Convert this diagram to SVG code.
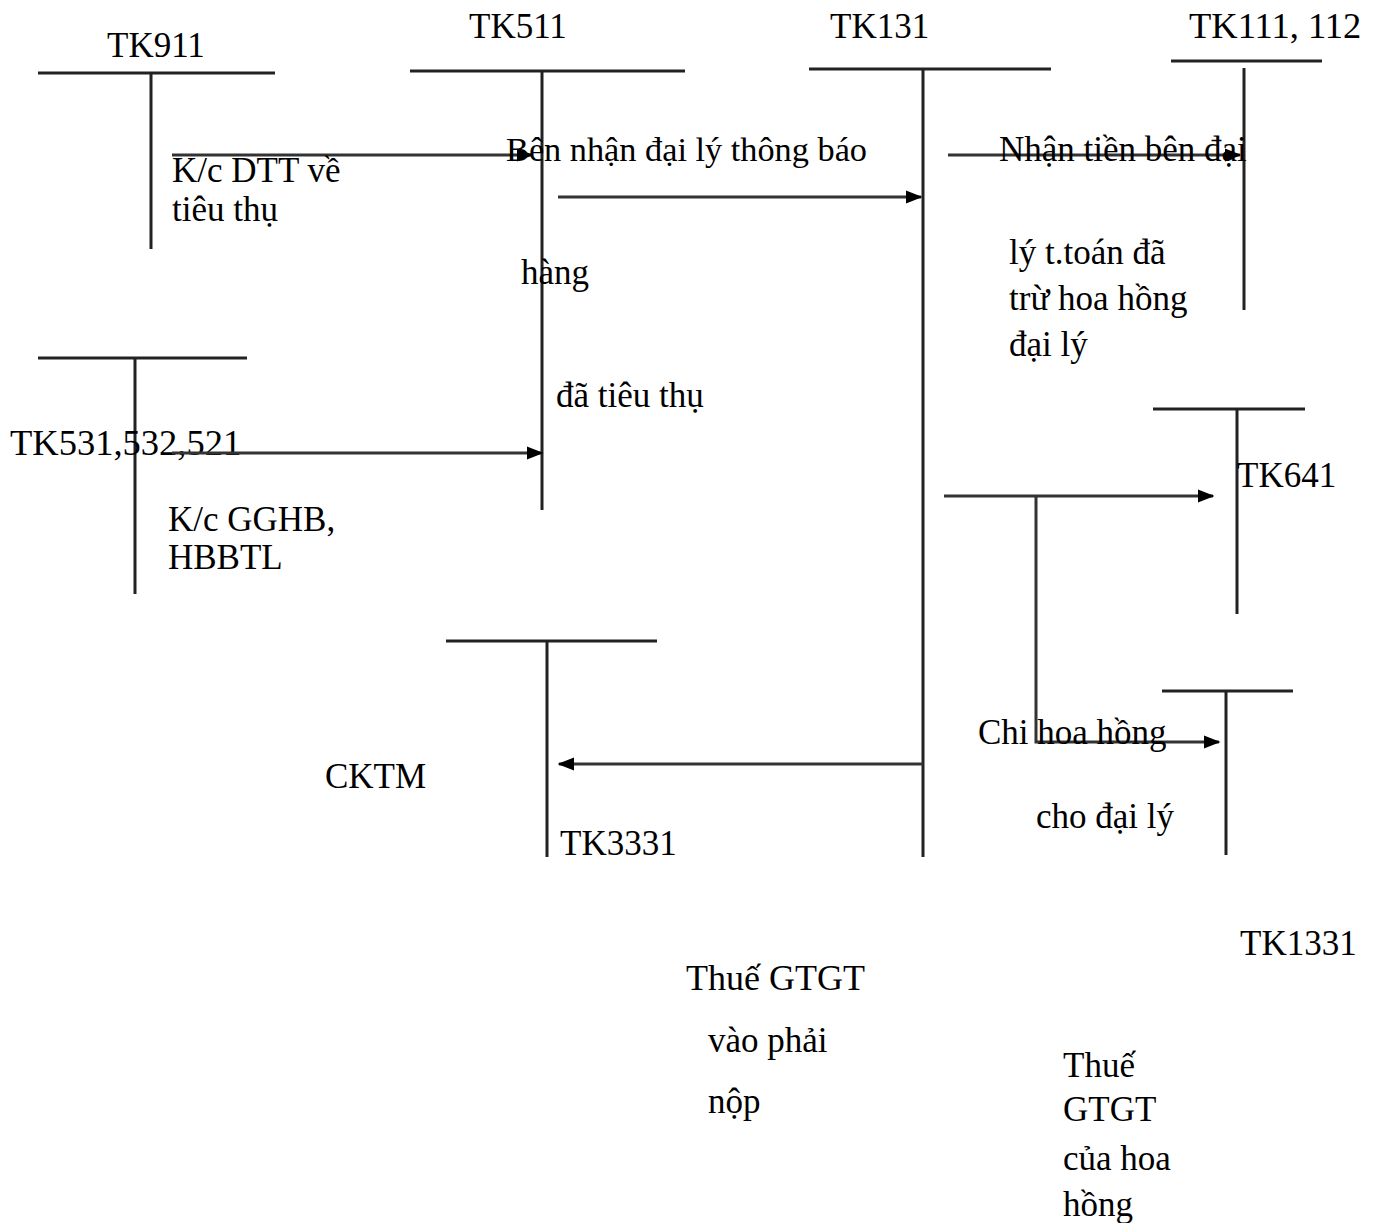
<svg xmlns="http://www.w3.org/2000/svg" width="1384" height="1223" viewBox="0 0 1384 1223">
<style>
text{font-family:"Liberation Serif","Times New Roman",serif;font-size:35px;fill:#000}
.t{stroke:#222;stroke-width:3;fill:none}
.c{stroke:#333;stroke-width:3;fill:none}
</style>
<defs>
<marker id="ah" markerWidth="5.5" markerHeight="4.4" refX="5" refY="2.2" orient="auto" markerUnits="strokeWidth">
<path d="M0,0 L5.5,2.2 L0,4.4 z" fill="#000"/>
</marker>
</defs>
<rect width="1384" height="1223" fill="#fff"/>
<g id="tk911"><path class="t" d="M38 73H275M151 73V249"/><text x="107" y="57">TK911</text></g>
<g id="tk511"><path class="t" d="M410 71H685M542 71V510"/><text x="469" y="38">TK511</text></g>
<g id="tk131"><path class="t" d="M809 69H1051M923 69V857"/><text x="830" y="38">TK131</text></g>
<g id="tk111"><path class="t" d="M1171 61H1322M1244 68V310"/><text x="1189" y="38" style="font-size:36.5px">TK111, 112</text></g>
<g id="tk531"><path class="t" d="M38 358H247M135 358V594"/><text x="10" y="455" style="font-size:36.5px">TK531,532,521</text></g>
<g id="tk641"><path class="t" d="M1153 409H1305M1237 409V614"/><text x="1237" y="487">TK641</text></g>
<g id="tk1331"><path class="t" d="M1162 691H1293M1226 691V855"/><text x="1240" y="955">TK1331</text></g>
<g id="tk3331"><path class="t" d="M446 641H657M547 641V857"/><text x="560" y="855">TK3331</text></g>
<g id="connectors">
<path class="c" d="M172 155H532" marker-end="url(#ah)"/>
<path class="c" d="M558 197H921" marker-end="url(#ah)"/>
<path class="c" d="M948 155H1240" marker-end="url(#ah)"/>
<path class="c" d="M172 453H542" marker-end="url(#ah)"/>
<path class="c" d="M944 496H1213" marker-end="url(#ah)"/>
<path class="c" d="M1036 496V742H1219" marker-end="url(#ah)"/>
<path class="c" d="M923 764H559" marker-end="url(#ah)"/>
</g>
<g id="labels">
<text x="506" y="161" style="font-size:34.3px">Bên nhận đại lý thông báo</text>
<text x="172" y="182">K/c DTT về</text>
<text x="172" y="221">tiêu thụ</text>
<text x="521" y="284">hàng</text>
<text x="556" y="407">đã tiêu thụ</text>
<text x="999" y="161">Nhận tiền bên đại</text>
<text x="1009" y="264">lý t.toán đã</text>
<text x="1009" y="310">trừ hoa hồng</text>
<text x="1009" y="356">đại lý</text>
<text x="168" y="531">K/c GGHB,</text>
<text x="168" y="569">HBBTL</text>
<text x="325" y="788">CKTM</text>
<text x="978" y="744">Chi hoa hồng</text>
<text x="1036" y="828">cho đại lý</text>
<text x="686" y="990" style="font-size:36px">Thuế GTGT</text>
<text x="708" y="1052">vào phải</text>
<text x="708" y="1113">nộp</text>
<text x="1063" y="1077">Thuế</text>
<text x="1063" y="1121">GTGT</text>
<text x="1063" y="1170">của hoa</text>
<text x="1063" y="1216">hồng</text>
</g>
</svg>
